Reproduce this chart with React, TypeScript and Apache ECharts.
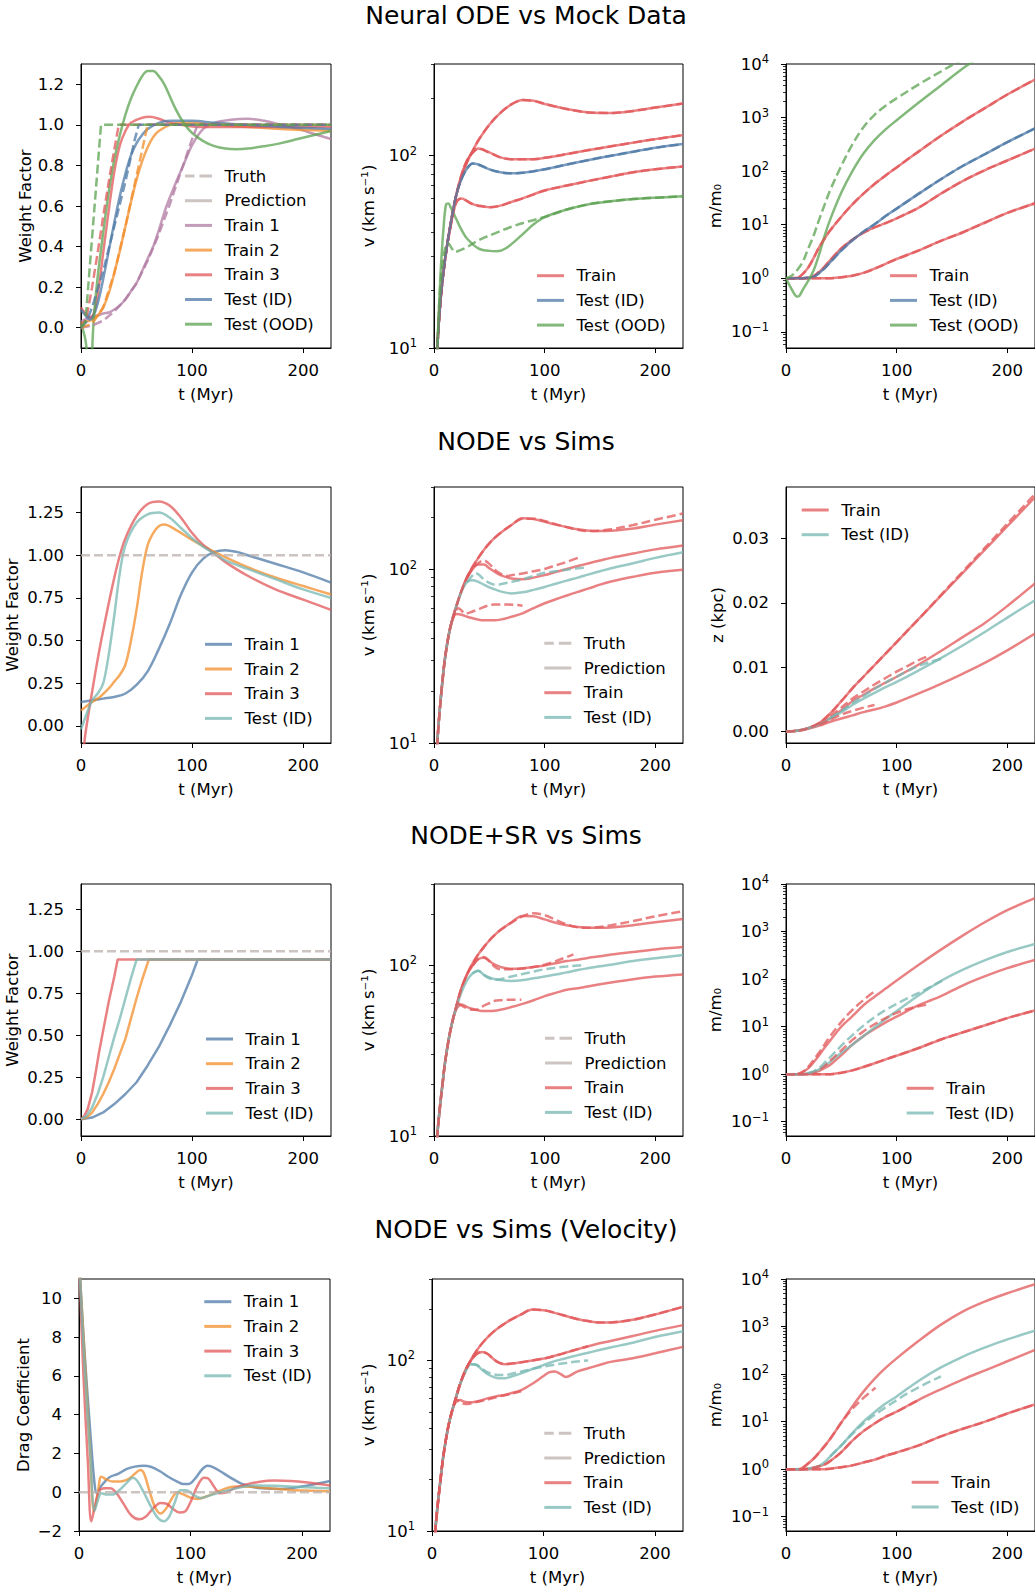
import React, { useEffect, useRef } from 'react';
import * as echarts from 'echarts';

// ---------------- text ----------------
const sectionTitles = ['Neural ODE vs Mock Data', 'NODE vs Sims', 'NODE+SR vs Sims', 'NODE vs Sims (Velocity)'];

// ---------------- ticks ----------------
const xTicks = [0, 100, 200];
const wfMockTicks = [0, 0.2, 0.4, 0.6, 0.8, 1.0, 1.2];
const wfSimsTicks = [0, 0.25, 0.5, 0.75, 1.0, 1.25];
const zTicks = [0, 0.01, 0.02, 0.03];
const dragTicks = [-2, 0, 2, 4, 6, 8, 10];
const velTicks = [10, 100];
const velMinor = [20, 30, 40, 50, 60, 70, 80, 90, 200, 300];
const massTicks = [0.1, 1, 10, 100, 1000, 10000];
const massMinor = [0.06, 0.07, 0.08, 0.09, 0.2, 0.3, 0.4, 0.5, 0.6, 0.7, 0.8, 0.9, 2, 3, 4, 5, 6, 7, 8, 9, 20, 30, 40, 50, 60, 70, 80, 90, 200, 300, 400, 500, 600, 700, 800, 900, 2000, 3000, 4000, 5000, 6000, 7000, 8000, 9000];

// ---------------- Panel 1: Neural ODE vs Mock Data, weight factor ----------------
const wfMockTrain1 = [[0,0.03],[5,0.045],[10,0.055],[15,0.06],[20,0.07],[25,0.075],[30,0.09],[35,0.11],[40,0.14],[45,0.18],[50,0.22],[55,0.28],[60,0.34],[65,0.4],[70,0.48],[77,0.6],[85,0.71],[92,0.8],[100,0.9],[110,0.98],[120,1.01],[135,1.025],[150,1.03],[165,1.02],[180,1.0],[195,0.98],[210,0.955],[225,0.93]];
const wfMockTrain1True = [[0,0],[10,0.01],[20,0.035],[30,0.08],[40,0.14],[50,0.22],[60,0.33],[70,0.46],[80,0.61],[90,0.77],[100,0.93],[105,1.0],[225,1.0]];
const wfMockTrain2 = [[0,0.02],[5,0.03],[10,0.04],[15,0.06],[20,0.1],[25,0.17],[30,0.27],[35,0.38],[40,0.5],[45,0.62],[50,0.73],[55,0.82],[60,0.89],[65,0.94],[70,0.97],[80,1.0],[90,1.01],[100,1.01],[120,1.0],[150,0.99],[180,0.98],[200,0.975],[225,0.97]];
const wfMockTrain2True = [[0,0],[10,0.02],[20,0.1],[30,0.27],[40,0.5],[50,0.75],[58,0.95],[60,1.0],[225,1.0]];
const wfMockTrain3 = [[0,0.1],[4,0.07],[8,0.05],[12,0.08],[16,0.2],[20,0.37],[25,0.58],[30,0.77],[35,0.9],[40,0.97],[45,1.01],[55,1.035],[62,1.04],[70,1.03],[80,1.01],[90,1.0],[110,0.99],[150,0.99],[225,0.99]];
const wfMockTrain3True = [[0,0],[5,0.05],[10,0.2],[15,0.37],[20,0.55],[25,0.72],[30,0.88],[34,1.0],[225,1.0]];
const wfMockTestId = [[0,0.09],[4,0.06],[8,0.04],[12,0.07],[16,0.14],[20,0.24],[25,0.38],[30,0.52],[35,0.65],[40,0.76],[45,0.85],[50,0.91],[55,0.95],[60,0.98],[70,1.01],[80,1.02],[100,1.02],[120,1.01],[150,1.0],[180,0.99],[225,0.98]];
const wfMockTestIdTrue = [[0,0],[5,0.03],[10,0.1],[20,0.28],[30,0.5],[40,0.72],[48,0.92],[52,1.0],[225,1.0]];
const wfMockTestOod = [[0,0.02],[4,-0.06],[7,-0.2],[9,-0.22],[10.5,-0.05],[12,0.08],[15,0.25],[20,0.47],[25,0.67],[30,0.83],[35,0.95],[40,1.05],[45,1.13],[50,1.19],[55,1.24],[60,1.265],[65,1.265],[70,1.24],[75,1.2],[80,1.14],[85,1.08],[90,1.03],[95,0.99],[100,0.96],[110,0.92],[120,0.895],[130,0.883],[140,0.88],[150,0.883],[165,0.895],[180,0.91],[195,0.93],[210,0.95],[225,0.97]];
const wfMockTestOodTrue = [[0,0],[4,0.03],[18,1.0],[225,1.0]];

// ---------------- Panel 2: velocity, mock ----------------
const velMockT = [0,3,6,10,15,20,25,30,35,40,50,60,70,80,90,100,120,140,160,180,200,225];
const velMockTrainA = [4,10,18,29,44,62,78,93,106,120,145,167,185,195,193,186,175,168,167,171,178,187];
const velMockTrainB = [4,10,18,29,44,62,80,95,104,109,104,98,96,96,96,97.5,102,107,112,117,122,128];
const velMockTestId = [4,10,18,29,44,62,76,86,91,90,85,82,81,81.5,83,85,90,95,100,105,110,115];
const velMockTrainC = [4,10,18,29,43,57,60,58,56,55,54,55,57.5,60,63,66,70,74,78,82,85,88];
const velMockOodT = [0,3,6,9,11,13,15,20,25,30,40,50,57,65,80,90,100,120,140,160,180,200,225];
const velMockOod = [4,10,25,45,56,56.5,54,47,41,37,33,32,31.9,33,39,44,48,52.5,56,58,59.5,60.5,61.5];
const velMockOodTrueT = [0,3,6,10,13,16,19,25,30,40,55,70,85,100,120,140,160,180,200,225];
const velMockOodTrue = [4,10,22,33,35,33,31.6,32.5,33.5,36.3,39.5,42.7,45.5,48,52.5,56,58,59.5,60.5,61.5];

// ---------------- Panel 3: mass, mock ----------------
const massMockT = [0,10,15,20,25,30,35,40,50,60,70,80,90,100,120,140,160,180,200,225];
const massMockTrainA = [1,1.02,1.2,1.58,2.4,3.8,5.6,7.9,14.1,24,38,57.5,83.2,117.5,234,457,851,1514,2692,5129];
const massMockTestId = [1,1,1,1.02,1.07,1.26,1.55,2.0,3.31,5.13,7.41,10.2,14.5,20,38,70.8,126,209,347,631];
const massMockTrainB = [1,1,1,1.02,1.1,1.32,1.66,2.19,3.63,5.25,7.08,8.91,10.7,13.2,20.9,38,66,105,158,263];
const massMockTrainC = [1,1,1,1,1,1,1,1,1.05,1.12,1.26,1.51,1.86,2.29,3.31,5.01,7.24,11,16.6,25.1];
const massMockOodTrueT = [0,5,10,15,20,25,30,35,40,50,60,70,80,90,100,120,140,150,160];
const massMockOodTrue = [1,1.12,1.41,2.0,3.55,6.31,12.6,24,44.7,126,316,661,1122,1660,2291,4169,7244,9550,12023];
const massMockOodT = [0,5,10,12,15,20,25,30,35,40,50,60,70,80,90,100,120,140,160,170];
const massMockOod = [1,0.631,0.457,0.468,0.603,0.891,1.41,2.82,6.31,12.6,39.8,100,214,380,603,891,1905,3981,8318,11482];

// ---------------- Panel 4: NODE vs Sims, weight factor ----------------
const wfSimsTrain1 = [[0,0.14],[10,0.15],[20,0.16],[30,0.17],[40,0.19],[50,0.24],[60,0.32],[70,0.45],[80,0.6],[90,0.77],[100,0.9],[110,0.98],[120,1.02],[130,1.03],[140,1.02],[150,1.0],[175,0.95],[200,0.9],[225,0.84]];
const wfSimsTrain2 = [[0,0.09],[10,0.14],[17,0.17],[25,0.22],[30,0.26],[35,0.3],[40,0.36],[45,0.5],[50,0.68],[55,0.9],[60,1.06],[65,1.13],[70,1.17],[75,1.18],[85,1.15],[100,1.09],[120,1.02],[150,0.93],[175,0.87],[200,0.82],[225,0.77]];
const wfSimsTrain3 = [[0,-0.35],[3,-0.1],[5,0.0],[10,0.2],[15,0.39],[20,0.56],[25,0.72],[30,0.87],[35,1.0],[40,1.1],[50,1.23],[60,1.3],[70,1.315],[80,1.29],[90,1.22],[100,1.13],[110,1.06],[120,1.01],[130,0.96],[150,0.88],[175,0.8],[200,0.74],[225,0.68]];
const wfSimsTestId = [[0,-0.02],[5,0.07],[10,0.15],[15,0.19],[20,0.25],[25,0.42],[30,0.65],[35,0.9],[40,1.06],[50,1.19],[60,1.24],[70,1.25],[80,1.22],[90,1.16],[100,1.1],[110,1.05],[120,1.01],[130,0.97],[150,0.92],[175,0.86],[200,0.8],[225,0.75]];
const wfTruthFlat = [[0,1],[225,1]];

// ---------------- Panel 5: velocity, sims ----------------
const velSimsT = [0,3,5,8,10,13,16,20,25,30,35,40,45,50,55,60,70,80,90,100,110,120,130,140,150,160,180,200,225];
const velSimsTrainA = [4,10,15,24,31,41,50,61,76,91,104,117,130,142,153,163,181,198,196,189,182,176,171,168,167,168,173,182,193];
const velSimsTrainATrue = [4,10,15,24,31,41,50,61,76,91,104,117,130,142,153,163,181,197,197,191,183,176,170,167,168,171,181,194,211];
const velSimsTrainB = [4,10,15,24,31,41,50,61,76,90,101,107,107,102,97,93,89,88,90,93,97,101,105,109,113,117,124,131,138];
const velSimsTrainBTrueT = [30,35,40,45,50,55,60,67,70,80,90,100,110,120,130];
const velSimsTrainBTrue = [90,102,109,113,108,100,95,92,93,95,98,101,106,111,117];
const velSimsTestId = [4,10,15,24,31,41,50,61,75,85,87,85,82,79,77,75,73,74,76.5,79.5,83,86.5,90,94,98,102,109,117,126];
const velSimsTestIdTrueT = [30,35,37,40,45,50,55,60,70,80,90,100,110,120,130,139];
const velSimsTestIdTrue = [85,93,95.5,94,88,84,82,82.5,85,88,92,96,98,100,102,103];
const velSimsTrainC = [4,10,15,24,31,41,50,55.5,55,53.5,52.5,51.5,51,51,51,51.5,53.5,56,60,64,67.5,71,74.5,78,82,85.5,91,96,100];
const velSimsTrainCTrueT = [16,20,22,25,28,32,40,50,55,65,75,80];
const velSimsTrainCTrue = [50,58,60,58,55.8,56.5,59,62.5,63,63,62.5,62];

// ---------------- Panel 6: z, sims ----------------
const zSimsT = [0,10,20,30,40,50,60,70,80,90,100,120,140,160,180,200,225];
const zSimsTrainA = [0,0.0001,0.0005,0.0013,0.0028,0.0047,0.0067,0.0085,0.0103,0.0121,0.0139,0.0175,0.0211,0.0247,0.0283,0.0319,0.0364];
const zSimsTrainATrue = [0,0.0001,0.0005,0.0013,0.0028,0.0047,0.0067,0.0085,0.0103,0.0121,0.0139,0.0175,0.0212,0.0249,0.0286,0.0323,0.0369];
const zSimsTrainB = [0,0.0001,0.0005,0.0012,0.0021,0.0033,0.0047,0.0057,0.0067,0.0076,0.0085,0.0104,0.0125,0.0147,0.0169,0.0195,0.023];
const zSimsTrainBTrueT = [40,50,60,70,80,90,100,110,120,130];
const zSimsTrainBTrue = [0.0024,0.0037,0.0051,0.0062,0.0073,0.0083,0.0093,0.0102,0.0111,0.0118];
const zSimsTestId = [0,0.0001,0.0005,0.0011,0.002,0.003,0.0041,0.0051,0.006,0.0069,0.0077,0.0095,0.0114,0.0134,0.0155,0.0177,0.0204];
const zSimsTestIdTrueT = [40,50,60,70,80,90,100,110,120,130,141];
const zSimsTestIdTrue = [0.0021,0.0032,0.0044,0.0055,0.0066,0.0076,0.0085,0.0094,0.0102,0.0108,0.0113];
const zSimsTrainC = [0,0.0001,0.0004,0.0009,0.0015,0.002,0.0025,0.003,0.0034,0.0039,0.0045,0.0059,0.0074,0.009,0.0107,0.0126,0.0152];
const zSimsTrainCTrueT = [30,40,50,60,70,80];
const zSimsTrainCTrue = [0.001,0.0018,0.0026,0.0032,0.0037,0.0041];

// ---------------- Panel 7: NODE+SR, weight factor ----------------
const wfSrTrain1 = [[0,0],[10,0.01],[20,0.04],[30,0.09],[40,0.15],[50,0.22],[60,0.32],[70,0.43],[80,0.56],[90,0.7],[100,0.86],[105,0.95],[225,0.95]];
const wfSrTrain2 = [[0,0],[5,0.01],[10,0.04],[15,0.09],[20,0.15],[25,0.22],[30,0.3],[35,0.39],[40,0.48],[45,0.6],[50,0.72],[55,0.83],[61,0.95],[225,0.95]];
const wfSrTrain3 = [[0,0],[3,0.02],[6,0.06],[10,0.16],[13,0.27],[16,0.39],[20,0.53],[25,0.7],[30,0.85],[33,0.95],[225,0.95]];
const wfSrTestId = [[0,0],[5,0.02],[10,0.07],[15,0.15],[20,0.25],[25,0.37],[30,0.49],[35,0.6],[40,0.72],[45,0.84],[50,0.95],[225,0.95]];

// ---------------- Panel 8: velocity, NODE+SR ----------------
const velSrT = [0,3,5,8,10,13,16,20,25,30,35,40,45,50,55,60,70,80,90,100,110,120,130,140,150,160,180,200,225];
const velSrTrainA = [4,10,14,21,27,36,45,57,74,89,103,116,128,140,151,161,179,195,194,186,178,172,168,166,166,167,172,179,187];
const velSrTrainATrue = [4,10,14,21,27,36,45,57,74,89,103,116,128,140,151,161,178,194,202,197,185,174,167,166,168,172,182,194,208];
const velSrTrainB = [4,10,14,21,27,36,45,57,74,89,100,109,111,106,101,98,95.5,96,98,100,103,106,108,111,113,116,120,124,128];
const velSrTrainBTrueT = [35,40,45,50,55,60,70,80,90,100,110,120,126];
const velSrTrainBTrue = [100,109,112,106,98,95,95,96,98,101,106,112,116];
const velSrTestId = [4,10,14,21,27,36,45,56,70,82,90,93,88,85,83,82,81,82,84,86,88.5,91,94,96.5,99,101,106,110,115];
const velSrTestIdTrueT = [35,40,45,50,55,60,70,80,90,100,110,120,130,135];
const velSrTestIdTrue = [90,93,88,84,82.5,83,86,89,92,95,97,98.5,100,100.5];
const velSrTrainC = [4,10,14,21,27,36,45,55,59,57,55.5,54.5,54,54,54.3,55,57,59.5,62.5,66,69,72,73.5,75.5,77.5,79.5,83,86,88.5];
const velSrTrainCTrueT = [22,25,30,35,38.5,45,50,55,60,70,79];
const velSrTrainCTrue = [60,58,56,55,55,58,60,62,62.5,63,63];

// ---------------- Panel 9: mass, NODE+SR ----------------
const massSrT = [0,10,15,20,25,30,35,40,50,60,70,80,90,100,120,140,160,180,200,225];
const massSrTrainA = [1,1,1.1,1.32,1.78,2.51,3.63,5.13,10,16.6,28.2,42.7,63.1,93.3,200,417,832,1585,2818,5012];
const massSrTrainATrueT = [10,15,20,25,30,35,40,50,60,70,80];
const massSrTrainATrue = [1,1.12,1.41,2.0,2.88,4.27,6.31,12.6,22.4,36.3,55];
const massSrTestId = [1,1,1,1.05,1.12,1.26,1.51,1.82,2.82,4.17,6.31,9.55,14.5,21.4,45.7,91.2,158,251,372,550];
const massSrTestIdTrueT = [20,25,30,35,40,50,60,70,80,90,100,110,120,130,141];
const massSrTestIdTrue = [1.05,1.15,1.35,1.74,2.29,3.98,6.61,10.5,15.8,22.4,30.2,39.8,51.3,67.6,91.2];
const massSrTrainB = [1,1,1,1.02,1.07,1.17,1.35,1.58,2.51,4.17,6.31,8.91,12.3,16.2,28.2,43.7,74.1,115,170,251];
const massSrTrainBTrueT = [20,25,30,35,40,50,60,70,80,90,100,110,120,130];
const massSrTrainBTrue = [1.02,1.1,1.26,1.51,1.91,3.16,5.25,7.94,11.2,15.1,19.5,23.4,26.9,29.5];
const massSrTrainC = [1,1,1,1,1,1,1,1,1.07,1.2,1.41,1.7,2.04,2.45,3.55,5.37,7.59,10.7,15.1,21.9];

// ---------------- Panel 10: drag coefficient ----------------
const dragTrain1 = [[0,12],[5,7.2],[10,3.2],[14,0.4],[16,-0.05],[19,0.25],[24,0.6],[28,0.8],[35,0.95],[43,1.2],[50,1.32],[58,1.37],[65,1.3],[73,1.07],[80,0.8],[88,0.55],[94,0.42],[98,0.42],[104,0.7],[110,1.15],[115,1.37],[120,1.3],[127,1.07],[135,0.78],[145,0.46],[155,0.28],[165,0.2],[180,0.17],[190,0.2],[200,0.3],[212,0.42],[225,0.58]];
const dragTrain2 = [[0,12],[5,7],[10,2],[13.5,-1.0],[17,0],[20,0.8],[25,0.65],[30,0.55],[37,0.55],[45,0.7],[50,0.95],[55,1.15],[58,1.0],[63,0.1],[68,-0.75],[73,-1.1],[78,-0.85],[83,-0.35],[88,0.0],[93,-0.1],[100,-0.28],[106,-0.35],[115,-0.2],[125,0.05],[140,0.3],[155,0.28],[170,0.2],[190,0.12],[210,0.08],[225,0.05]];
const dragTrain3 = [[0,12],[4,6],[8,1.5],[11,-1.5],[14,-0.8],[18,0.05],[23,0.2],[28,0.2],[33,0.0],[40,-0.6],[47,-1.2],[54,-1.4],[60,-1.25],[67,-0.8],[73,-0.55],[78,-0.58],[84,-0.85],[90,-1.05],[95,-1.0],[100,-0.5],[106,0.3],[112,0.75],[116,0.7],[121,0.3],[126,-0.05],[132,0.0],[140,0.22],[150,0.4],[160,0.52],[175,0.6],[190,0.58],[205,0.5],[225,0.35]];
const dragTestId = [[0,12],[5,6.5],[10,2],[14,-0.95],[17,-0.4],[20,-0.05],[25,-0.12],[30,-0.12],[36,0.1],[43,0.5],[48,0.75],[52,0.6],[58,0.0],[65,-0.8],[71,-1.35],[76,-1.5],[81,-1.25],[86,-0.5],[91,0.1],[96,0.1],[103,-0.15],[109,-0.3],[118,-0.15],[130,0.05],[145,0.25],[157,0.35],[175,0.33],[195,0.28],[210,0.24],[225,0.2]];
const dragTruth = [[0,0],[225,0]];

// ---------------- Panel 11: velocity, velocity-drag model ----------------
const velVelT = [0,3,5,8,10,13,16,20,25,30,35,40,45,50,55,60,65,70,80,90,100,105,110,115,120,130,140,150,160,180,200,225];
const velVelTrainA = [4,10,14,21,27,36,45,56,72,87,101,114,126,137,147,156,164,172,186,199,197,194,190,186,182,175,170,167,167,173,186,206];
const velVelTrainB = [4,10,14,21,27,36,45,56,72,88,100,109,112,109,102,97,95,95.5,97.5,100,102.6,104,106.5,108.5,111,116,121,126,130,139,149,161];
const velVelTestId = [4,10,14,21,27,36,45,56,72,86,95,94,88,83,80,78.5,78.5,80,84,89,94,96.5,99,101,103,107,111,115,119,127,137,148];
const velVelTestIdTrueT = [35,40,45,50,55,60,65,70,80,90,100,110,120,130,140];
const velVelTestIdTrue = [95,94,89,85,83,82,82,83,86,89,92,94.5,96.5,98.5,100];
const velVelTrainC = [4,10,14,21,27,36,45,55,58.5,57,56.8,57.5,58.5,60,61,62,62.7,64,67,73,81,85,86,83.5,80,86,90,94,98,103,110,120];
const velVelTrainCTrueT = [20,22,25,30,35,40,50,60,70,80];
const velVelTrainCTrue = [55,59,57,55.5,56,57,59,61.5,63.5,66];

// ---------------- Panel 12: mass, velocity-drag model ----------------
const massVelT = [0,10,15,20,25,30,35,40,50,60,70,80,90,100,120,140,160,180,200,225];
const massVelTrainA = [1,1,1.07,1.32,1.66,2.24,3.09,4.37,9.55,20.9,42.7,79.4,135,214,501,1096,2089,3388,5012,7762];
const massVelTrainATrueT = [15,20,25,30,35,40,50,55,60,70,81];
const massVelTrainATrue = [1.07,1.32,1.66,2.24,3.09,4.37,9.55,13.5,18.6,31.6,51.3];
const massVelTestId = [1,1,1,1.02,1.07,1.17,1.41,1.86,3.16,5.75,10,15.8,24,33.9,72.4,138,234,363,537,813];
const massVelTestIdTrueT = [40,50,60,70,80,90,100,110,120,130,140];
const massVelTestIdTrue = [1.86,3.16,5.5,9.12,13.8,20,28.2,39.8,52.5,69.2,89.1];
const massVelTrainB = [1,1,1,1.02,1.07,1.15,1.26,1.48,2.29,3.98,6.31,9.12,12.6,16.2,28.8,47.9,77.6,120,186,324];
const massVelTrainC = [1,1,1,1,1,1,1,1.02,1.1,1.2,1.38,1.58,1.91,2.24,3.16,4.9,7.08,10,14.8,22.9];

// ---------------- styles ----------------
const FONT = 'DejaVu Sans';
const FS = 16.5;
const RED = '#e15759';
const BLUE = '#4e79a7';
const ORANGE = '#f28e2b';
const TEAL = '#76b7b2';
const GREEN = '#59a14f';
const PURPLE = '#b07aa1';
const GREY = '#bab0ac';
const LINE_W = 2.5;
const ALPHA = 0.75;
const DASH = [9, 4];
const DASH_ICON = 'path://M0,0h9.5v3h-9.5zM14.5,0h12.5v3h-12.5z';

const zip = (t: number[], v: number[]) => t.map((x, i) => [x, v[i]]);
const upTo = (pts: number[][], tMax: number) => pts.filter((p) => p[0] <= tMax);

type Ser = { name: string; color: string; data: number[][]; dashed?: boolean; smooth?: number | boolean };
const S = (name: string, color: string, data: number[][], dashed = false, smooth: number | boolean = 0.35): Ser => ({ name, color, data, dashed, smooth });

const fmt1 = (v: number) => v.toFixed(1);
const fmt2 = (v: number) => v.toFixed(2);
const fmtInt = (v: number) => (v < 0 ? '\u2212' + Math.abs(v) : String(v));
const supText = (k: number) => (k < 0 ? '\u2212' + String(-k) : String(k));
const fmtLog = (v: number) => `{b|10}{s|${supText(Math.round(Math.log10(v)))}}`;

const LG_MOCK_WF = [
  { name: 'Truth', color: GREY, dashed: true },
  { name: 'Prediction', color: GREY },
  { name: 'Train 1', color: PURPLE },
  { name: 'Train 2', color: ORANGE },
  { name: 'Train 3', color: RED },
  { name: 'Test (ID)', color: BLUE },
  { name: 'Test (OOD)', color: GREEN },
];
const LG_MOCK = [
  { name: 'Train', color: RED },
  { name: 'Test (ID)', color: BLUE },
  { name: 'Test (OOD)', color: GREEN },
];
const LG_WF = [
  { name: 'Train 1', color: BLUE },
  { name: 'Train 2', color: ORANGE },
  { name: 'Train 3', color: RED },
  { name: 'Test (ID)', color: TEAL },
];
const LG_VEL = [
  { name: 'Truth', color: GREY, dashed: true },
  { name: 'Prediction', color: GREY },
  { name: 'Train', color: RED },
  { name: 'Test (ID)', color: TEAL },
];
const LG_TWO = [
  { name: 'Train', color: RED },
  { name: 'Test (ID)', color: TEAL },
];

const VEL_AXIS = { yType: 'log', yMin: 10, yMax: 300, yTicks: velTicks, yMinor: velMinor, yFmt: fmtLog, yName: 'v (km s\u207b\u00b9)' };
const MASS_AXIS = { yType: 'log', yMin: 0.05, yMax: 10000, yTicks: massTicks, yMinor: massMinor, yFmt: fmtLog, yName: 'm/m\u2080' };

const panels: any[] = [
  {
    left: 81, top: 64, width: 250, height: 284,
    yType: 'value', yMin: -0.1, yMax: 1.3, yTicks: wfMockTicks, yFmt: fmt1, yName: 'Weight Factor', yNameGap: 45,
    legendLeft: 185, legendTop: 167, legend: LG_MOCK_WF,
    series: [
      S('Truth', GREY, [], true),
      S('Prediction', GREY, []),
      S('Train 1', PURPLE, wfMockTrain1),
      S('Train 1', PURPLE, wfMockTrain1True, true, false),
      S('Train 2', ORANGE, wfMockTrain2),
      S('Train 2', ORANGE, wfMockTrain2True, true, false),
      S('Train 3', RED, wfMockTrain3),
      S('Train 3', RED, wfMockTrain3True, true, false),
      S('Test (ID)', BLUE, wfMockTestId),
      S('Test (ID)', BLUE, wfMockTestIdTrue, true, false),
      S('Test (OOD)', GREEN, wfMockTestOod),
      S('Test (OOD)', GREEN, wfMockTestOodTrue, true, false),
    ],
  },
  {
    left: 434, top: 64, width: 249, height: 284, ...VEL_AXIS, yNameGap: 57,
    legendLeft: 537, legendTop: 266.7, legend: LG_MOCK,
    series: [
      S('Train', RED, zip(velMockT, velMockTrainA)),
      S('Train', RED, zip(velMockT, velMockTrainA), true),
      S('Train', RED, zip(velMockT, velMockTrainB)),
      S('Train', RED, zip(velMockT, velMockTrainB), true),
      S('Train', RED, zip(velMockT, velMockTrainC)),
      S('Train', RED, zip(velMockT, velMockTrainC), true),
      S('Test (ID)', BLUE, zip(velMockT, velMockTestId)),
      S('Test (ID)', BLUE, zip(velMockT, velMockTestId), true),
      S('Test (OOD)', GREEN, zip(velMockOodT, velMockOod)),
      S('Test (OOD)', GREEN, zip(velMockOodTrueT, velMockOodTrue), true),
    ],
  },
  {
    left: 786, top: 64, width: 250, height: 284, ...MASS_AXIS, yNameGap: 62,
    legendLeft: 890, legendTop: 266.7, legend: LG_MOCK,
    series: [
      S('Train', RED, zip(massMockT, massMockTrainA)),
      S('Train', RED, zip(massMockT, massMockTrainA), true),
      S('Train', RED, zip(massMockT, massMockTrainB)),
      S('Train', RED, zip(massMockT, massMockTrainB), true),
      S('Train', RED, zip(massMockT, massMockTrainC)),
      S('Train', RED, zip(massMockT, massMockTrainC), true),
      S('Test (ID)', BLUE, zip(massMockT, massMockTestId)),
      S('Test (ID)', BLUE, zip(massMockT, massMockTestId), true),
      S('Test (OOD)', GREEN, zip(massMockOodT, massMockOod)),
      S('Test (OOD)', GREEN, zip(massMockOodTrueT, massMockOodTrue), true),
    ],
  },
  {
    left: 81, top: 487, width: 250, height: 256,
    yType: 'value', yMin: -0.1, yMax: 1.4, yTicks: wfSimsTicks, yFmt: fmt2, yName: 'Weight Factor', yNameGap: 60,
    legendLeft: 205, legendTop: 635.3, legend: LG_WF,
    series: [
      S('Truth', GREY, wfTruthFlat, true, false),
      S('Train 1', BLUE, wfSimsTrain1),
      S('Train 2', ORANGE, wfSimsTrain2),
      S('Train 3', RED, wfSimsTrain3),
      S('Test (ID)', TEAL, wfSimsTestId),
    ],
  },
  {
    left: 434, top: 487, width: 249, height: 256, ...VEL_AXIS, yNameGap: 57,
    legendLeft: 544.3, legendTop: 634.3, legend: LG_VEL,
    series: [
      S('Train', RED, zip(velSimsT, velSimsTrainA)),
      S('Train', RED, zip(velSimsT, velSimsTrainATrue), true),
      S('Train', RED, zip(velSimsT, velSimsTrainB)),
      S('Train', RED, zip(velSimsTrainBTrueT, velSimsTrainBTrue), true),
      S('Train', RED, zip(velSimsT, velSimsTrainC)),
      S('Train', RED, zip(velSimsTrainCTrueT, velSimsTrainCTrue), true),
      S('Test (ID)', TEAL, zip(velSimsT, velSimsTestId)),
      S('Test (ID)', TEAL, zip(velSimsTestIdTrueT, velSimsTestIdTrue), true),
    ],
  },
  {
    left: 786, top: 487, width: 250, height: 256,
    yType: 'value', yMin: -0.0018, yMax: 0.038, yTicks: zTicks, yFmt: fmt2, yName: 'z (kpc)', yNameGap: 60,
    legendLeft: 801.7, legendTop: 501, legend: LG_TWO,
    series: [
      S('Train', RED, zip(zSimsT, zSimsTrainA)),
      S('Train', RED, zip(zSimsT, zSimsTrainATrue), true),
      S('Train', RED, zip(zSimsT, zSimsTrainB)),
      S('Train', RED, zip(zSimsTrainBTrueT, zSimsTrainBTrue), true),
      S('Train', RED, zip(zSimsT, zSimsTrainC)),
      S('Train', RED, zip(zSimsTrainCTrueT, zSimsTrainCTrue), true),
      S('Test (ID)', TEAL, zip(zSimsT, zSimsTestId)),
      S('Test (ID)', TEAL, zip(zSimsTestIdTrueT, zSimsTestIdTrue), true),
    ],
  },
  {
    left: 81, top: 884, width: 250, height: 252,
    yType: 'value', yMin: -0.1, yMax: 1.4, yTicks: wfSimsTicks, yFmt: fmt2, yName: 'Weight Factor', yNameGap: 60,
    legendLeft: 206, legendTop: 1030, legend: LG_WF,
    series: [
      S('Truth', GREY, wfTruthFlat, true, false),
      S('Train 1', BLUE, wfSrTrain1, false, false),
      S('Train 2', ORANGE, wfSrTrain2, false, false),
      S('Train 3', RED, wfSrTrain3, false, false),
      S('Test (ID)', TEAL, wfSrTestId, false, false),
    ],
  },
  {
    left: 434, top: 884, width: 249, height: 252, ...VEL_AXIS, yNameGap: 57,
    legendLeft: 545, legendTop: 1029.3, legend: LG_VEL,
    series: [
      S('Train', RED, zip(velSrT, velSrTrainA)),
      S('Train', RED, zip(velSrT, velSrTrainATrue), true),
      S('Train', RED, zip(velSrT, velSrTrainB)),
      S('Train', RED, zip(velSrTrainBTrueT, velSrTrainBTrue), true),
      S('Train', RED, zip(velSrT, velSrTrainC)),
      S('Train', RED, zip(velSrTrainCTrueT, velSrTrainCTrue), true),
      S('Test (ID)', TEAL, zip(velSrT, velSrTestId)),
      S('Test (ID)', TEAL, zip(velSrTestIdTrueT, velSrTestIdTrue), true),
    ],
  },
  {
    left: 786, top: 884, width: 250, height: 252, ...MASS_AXIS, yNameGap: 62,
    legendLeft: 906.7, legendTop: 1079.3, legend: LG_TWO,
    series: [
      S('Train', RED, zip(massSrT, massSrTrainA)),
      S('Train', RED, zip(massSrTrainATrueT, massSrTrainATrue), true),
      S('Train', RED, zip(massSrT, massSrTrainB)),
      S('Train', RED, zip(massSrTrainBTrueT, massSrTrainBTrue), true),
      S('Train', RED, zip(massSrT, massSrTrainC)),
      S('Train', RED, zip(massSrT, massSrTrainC), true),
      S('Test (ID)', TEAL, zip(massSrT, massSrTestId)),
      S('Test (ID)', TEAL, zip(massSrTestIdTrueT, massSrTestIdTrue), true),
    ],
  },
  {
    left: 79, top: 1279, width: 251, height: 252,
    yType: 'value', yMin: -2, yMax: 11, yTicks: dragTicks, yFmt: fmtInt, yName: 'Drag Coefficient', yNameGap: 47,
    legendLeft: 204.3, legendTop: 1292.7, legend: LG_WF,
    series: [
      S('Truth', GREY, dragTruth, true, false),
      S('Train 1', BLUE, dragTrain1),
      S('Train 2', ORANGE, dragTrain2),
      S('Train 3', RED, dragTrain3),
      S('Test (ID)', TEAL, dragTestId),
    ],
  },
  {
    left: 432, top: 1279, width: 251, height: 252, ...VEL_AXIS, yNameGap: 55,
    legendLeft: 544.3, legendTop: 1424.3, legend: LG_VEL,
    series: [
      S('Train', RED, zip(velVelT, velVelTrainA)),
      S('Train', RED, zip(velVelT, velVelTrainA), true),
      S('Train', RED, zip(velVelT, velVelTrainB)),
      S('Train', RED, upTo(zip(velVelT, velVelTrainB), 140), true),
      S('Train', RED, zip(velVelT, velVelTrainC)),
      S('Train', RED, zip(velVelTrainCTrueT, velVelTrainCTrue), true),
      S('Test (ID)', TEAL, zip(velVelT, velVelTestId)),
      S('Test (ID)', TEAL, zip(velVelTestIdTrueT, velVelTestIdTrue), true),
    ],
  },
  {
    left: 786, top: 1279, width: 250, height: 252, ...MASS_AXIS, yNameGap: 62,
    legendLeft: 911.7, legendTop: 1473.3, legend: LG_TWO,
    series: [
      S('Train', RED, zip(massVelT, massVelTrainA)),
      S('Train', RED, zip(massVelTrainATrueT, massVelTrainATrue), true),
      S('Train', RED, zip(massVelT, massVelTrainB)),
      S('Train', RED, upTo(zip(massVelT, massVelTrainB), 130), true),
      S('Train', RED, zip(massVelT, massVelTrainC)),
      S('Train', RED, zip(massVelT, massVelTrainC), true),
      S('Test (ID)', TEAL, zip(massVelT, massVelTestId)),
      S('Test (ID)', TEAL, zip(massVelTestIdTrueT, massVelTestIdTrue), true),
    ],
  },
];

const titleYs = [15, 441.5, 835, 1229];

function buildOption() {
  const txt = { fontSize: FS, fontFamily: FONT, color: '#000' };
  const grids: any[] = [];
  const xAxes: any[] = [];
  const yAxes: any[] = [];
  const series: any[] = [];
  const legends: any[] = [];

  panels.forEach((p, i) => {
    grids.push({
      left: p.left, top: p.top, width: p.width, height: p.height,
      show: true, borderColor: '#000', borderWidth: 1, backgroundColor: 'transparent', containLabel: false,
    });
    xAxes.push({
      gridIndex: i, type: 'value', min: 0, max: 225, position: 'bottom',
      name: 't (Myr)', nameLocation: 'middle', nameGap: 38, nameTextStyle: { ...txt },
      axisLine: { show: true, onZero: false, lineStyle: { color: '#000', width: 1 } },
      axisTick: { show: true, customValues: xTicks, length: 5, lineStyle: { color: '#000', width: 1 } },
      axisLabel: { customValues: xTicks, margin: 14, ...txt, formatter: (v: number) => String(v) },
      splitLine: { show: false },
    });
    const yi = yAxes.length;
    const isLog = p.yType === 'log';
    yAxes.push({
      gridIndex: i, type: p.yType, logBase: 10, min: p.yMin, max: p.yMax, position: 'left',
      name: p.yName, nameLocation: 'middle', nameGap: p.yNameGap, nameTextStyle: { ...txt },
      axisLine: { show: true, onZero: false, lineStyle: { color: '#000', width: 1 } },
      axisTick: { show: true, customValues: p.yTicks, length: 5, lineStyle: { color: '#000', width: 1 } },
      axisLabel: {
        customValues: p.yTicks, margin: 17, ...txt, formatter: p.yFmt,
        rich: isLog
          ? {
              b: { fontSize: FS, fontFamily: FONT, color: '#000', lineHeight: 22 },
              s: { fontSize: 11.5, fontFamily: FONT, color: '#000', lineHeight: 13, verticalAlign: 'top' },
            }
          : undefined,
      },
      splitLine: { show: false },
    });
    if (p.yMinor) {
      yAxes.push({
        gridIndex: i, type: p.yType, logBase: 10, min: p.yMin, max: p.yMax, position: 'left',
        axisLine: { show: false, onZero: false },
        axisTick: { show: true, customValues: p.yMinor, length: 3, lineStyle: { color: '#000', width: 0.8 } },
        axisLabel: { show: false },
        splitLine: { show: false },
      });
    }
    p.series.forEach((s: Ser, k: number) => {
      series.push({
        type: 'line', name: s.name, xAxisIndex: i, yAxisIndex: yi, data: s.data,
        showSymbol: false, symbol: 'none', smooth: s.smooth,
        clip: true, silent: true,
        lineStyle: { color: s.color, width: LINE_W, opacity: ALPHA, type: s.dashed ? DASH : 'solid', cap: 'butt' },
        itemStyle: { color: s.color },
        emphasis: { disabled: true },
        z: 2 + k * 0.01 + (s.dashed ? 1 : 0),
      });
    });
    legends.push({
      orient: 'vertical', left: p.legendLeft, top: p.legendTop, padding: 0,
      itemWidth: 27, itemHeight: 3, itemGap: 6.7, selectedMode: false,
      textStyle: { fontSize: FS, fontFamily: FONT, color: '#000', lineHeight: 18, padding: [0, 0, 0, 7.5] },
      data: p.legend.map((it: any) => ({
        name: it.name,
        icon: it.dashed ? DASH_ICON : 'rect',
        itemStyle: { color: it.color, opacity: ALPHA, borderWidth: 0 },
      })),
    });
  });

  return {
    animation: false,
    backgroundColor: '#ffffff',
    textStyle: { fontFamily: FONT },
    grid: grids,
    xAxis: xAxes,
    yAxis: yAxes,
    legend: legends,
    series,
    graphic: {
      elements: sectionTitles.map((t, k) => ({
        type: 'text', x: 526, y: titleYs[k], silent: true,
        style: {
          text: t, fontSize: 25, fontFamily: FONT, font: `25px "${FONT}"`, fill: '#000',
          textAlign: 'center', textVerticalAlign: 'middle', align: 'center', verticalAlign: 'middle',
        },
      })),
    },
  };
}

export default function App() {
  const ref = useRef<HTMLDivElement>(null);
  useEffect(() => {
    document.body.style.margin = '0';
    const chart = echarts.init(ref.current as HTMLDivElement, undefined, { renderer: 'svg' });
    chart.setOption(buildOption() as any);
    return () => chart.dispose();
  }, []);
  return <div ref={ref} style={{ width: 1035, height: 1591 }} />;
}
